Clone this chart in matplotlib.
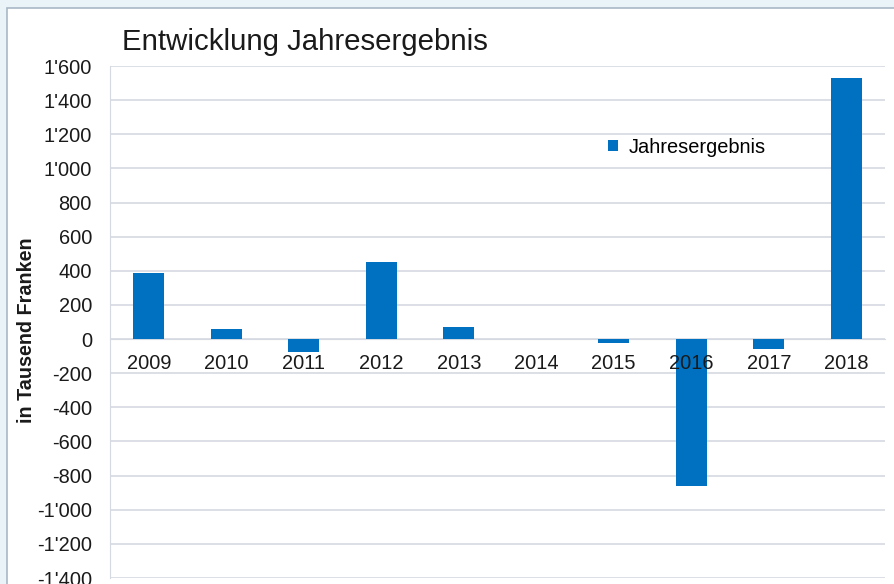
import matplotlib.pyplot as plt
from matplotlib.ticker import FuncFormatter
from matplotlib.patches import Rectangle

years = ["2009", "2010", "2011", "2012", "2013", "2014", "2015", "2016", "2017", "2018"]
ergebnis = [385, 57, -74, 453, 68, 0, -22, -861, -60, 1527]

plt.rcParams['font.family'] = ['Liberation Sans', 'DejaVu Sans']

fig = plt.figure(figsize=(8.95, 5.84), dpi=100)
fig.patch.set_facecolor('#eaf3f8')
# weisser Rahmen fuer das Diagramm
fig.patches.append(Rectangle((7 / 895, -0.01), 1.0, 1 - 8 / 584 + 0.01, transform=fig.transFigure,
                             facecolor='white', edgecolor='#a9b8c6', linewidth=1.2, zorder=-10))

ax = fig.add_axes([110 / 895, 6 / 584, 775 / 895, 512 / 584])
ax.set_facecolor('white')

x = range(len(years))
ax.bar(x, ergebnis, width=0.4, color='#0070c0', label='Jahresergebnis', zorder=3)

ax.set_xlim(-0.5, len(years) - 0.5)
ax.set_ylim(-1400, 1600)
ax.set_yticks(range(-1400, 1601, 200))
ax.yaxis.set_major_formatter(FuncFormatter(lambda v, p: f"{int(v):,}".replace(",", "'")))
ax.grid(axis='y', color='#d5dae2', linewidth=1.2, zorder=0)

ax.set_xticks(list(x))
ax.set_xticklabels(years)
ax.xaxis.set_zorder(5)  # Jahreszahlen ueber den Balken
ax.spines['bottom'].set_position(('data', 0))
ax.spines['bottom'].set_color('#d5dae2')
ax.spines['top'].set_visible(False)
ax.spines['right'].set_visible(False)
ax.spines['left'].set_color('#d5dae2')
ax.tick_params(axis='x', length=0, labelsize=14.4, pad=11, colors='#1a1a1a')
ax.tick_params(axis='y', length=0, labelsize=14.4, pad=13, colors='#1a1a1a')

fig.text(27 / 895, 1 - 330 / 584, 'in Tausend Franken', fontsize=14.2, fontweight='bold',
         rotation=90, va='center', ha='center', color='#1a1a1a')
fig.text(122 / 895, 1 - 42 / 584, 'Entwicklung Jahresergebnis', fontsize=21.2,
         va='center', ha='left', color='#1a1a1a')

ax.legend(loc='upper left', bbox_to_anchor=(0.62, 0.895), frameon=False, fontsize=14.4,
          handlelength=0.5, handleheight=0.5, handletextpad=0.5)

fig.savefig('out.png', dpi=100, facecolor=fig.get_facecolor())
